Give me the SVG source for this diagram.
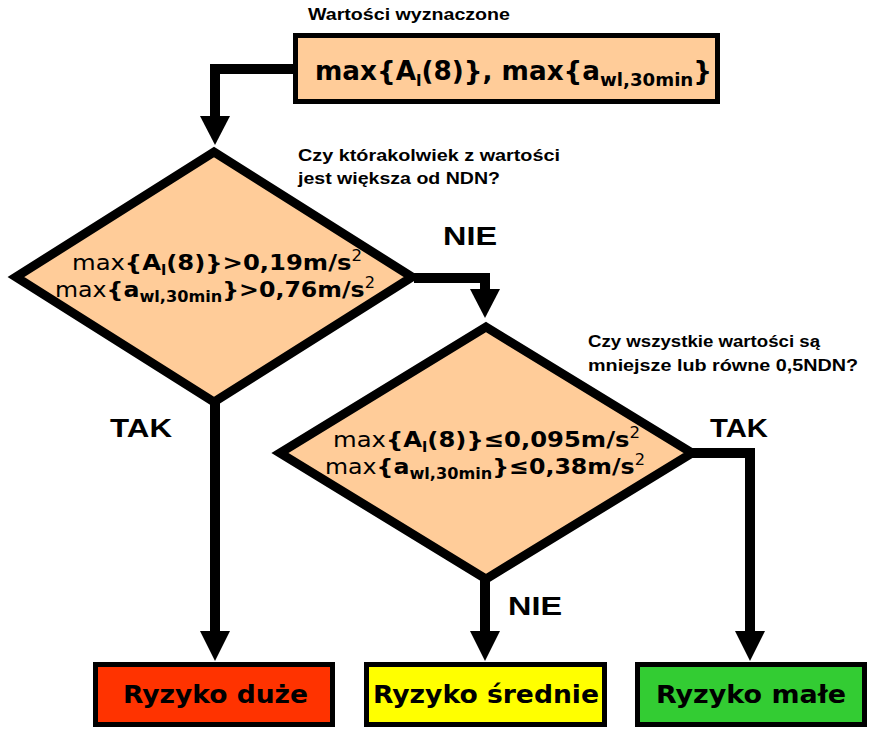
<svg xmlns="http://www.w3.org/2000/svg" width="872" height="730" viewBox="0 0 872 730">
<style>
.box{stroke:#000;stroke-width:5}
.dia{fill:#FFCC99;stroke:#000;stroke-width:9;stroke-linejoin:miter;stroke-miterlimit:10}
.con{fill:none;stroke:#000;stroke-width:10;stroke-linejoin:miter}
.head{fill:#000}
.q{font-family:"Liberation Sans",Arial,sans-serif;font-weight:bold;font-size:16.5px;fill:#000}
.lbl{font-family:"Liberation Sans",Arial,sans-serif;font-weight:bold;font-size:25px;fill:#000}
.f{font-family:"DejaVu Sans",Verdana,sans-serif;fill:#000}
.b{font-weight:bold}
.n{font-weight:normal}
.res{font-family:"DejaVu Sans",Verdana,sans-serif;font-weight:bold;font-size:25px;fill:#000}
</style>

<g id="connectors">
<path class="con" d="M293,69 H215 V118"/>
<polygon class="head" points="200,116 230,116 215,145"/>
<path class="con" d="M414,278 H485 V291"/>
<polygon class="head" points="470,289 500,289 485,318"/>
<path class="con" d="M215,402 V633"/>
<polygon class="head" points="200,631 230,631 215,661"/>
<path class="con" d="M485,578 V633"/>
<polygon class="head" points="470,631 500,631 485,661"/>
<path class="con" d="M692,453 H750 V633"/>
<polygon class="head" points="735,631 765,631 750,661"/>
</g>

<g id="title">
<text class="q" x="308" y="20" textLength="202" lengthAdjust="spacingAndGlyphs">Wartości wyznaczone</text>
</g>

<g id="start">
<rect class="box" x="295.5" y="35.5" width="422" height="66" fill="#FFCC99"/>
<text class="f b" x="315" y="80" font-size="26" textLength="397" lengthAdjust="spacingAndGlyphs">max{A<tspan font-size="16" dy="6">l</tspan><tspan dy="-6">(8)}, max{a</tspan><tspan font-size="18" dy="6">wl,30min</tspan><tspan dy="-6">}</tspan></text>
</g>

<g id="q1">
<text class="q" x="298" y="161" textLength="262" lengthAdjust="spacingAndGlyphs">Czy którakolwiek z wartości</text>
<text class="q" x="298" y="184" textLength="202" lengthAdjust="spacingAndGlyphs">jest większa od NDN?</text>
</g>

<g id="decision1">
<polygon class="dia" points="214,152 412,277 214,402 16,277"/>
<text class="f" x="72" y="270" font-size="22" textLength="290" lengthAdjust="spacingAndGlyphs">max<tspan class="b">{A</tspan><tspan class="b" font-size="14" dy="5">l</tspan><tspan class="b" dy="-5">(8)}&gt;0,19m/s</tspan><tspan font-size="15" dy="-9">2</tspan></text>
<text class="f" x="55" y="297" font-size="22" textLength="320" lengthAdjust="spacingAndGlyphs">max<tspan class="b">{a</tspan><tspan class="b" font-size="15" dy="5">wl,30min</tspan><tspan class="b" dy="-5">}&gt;0,76m/s</tspan><tspan font-size="15" dy="-9">2</tspan></text>
</g>

<g id="label-nie1">
<text class="lbl" x="443" y="245" textLength="54" lengthAdjust="spacingAndGlyphs">NIE</text>
</g>
<g id="label-tak1">
<text class="lbl" x="110" y="437" textLength="62" lengthAdjust="spacingAndGlyphs">TAK</text>
</g>

<g id="q2">
<text class="q" x="588" y="347" textLength="232" lengthAdjust="spacingAndGlyphs">Czy wszystkie wartości są</text>
<text class="q" x="588" y="371" textLength="270" lengthAdjust="spacingAndGlyphs">mniejsze lub równe 0,5NDN?</text>
</g>

<g id="decision2">
<polygon class="dia" points="486,327 692,453 486,579 280,453"/>
<text class="f" x="333" y="447" font-size="22" textLength="307" lengthAdjust="spacingAndGlyphs">max<tspan class="b">{A</tspan><tspan class="b" font-size="14" dy="5">l</tspan><tspan class="b" dy="-5">(8)}≤0,095m/s</tspan><tspan font-size="15" dy="-9">2</tspan></text>
<text class="f" x="325" y="474" font-size="22" textLength="320" lengthAdjust="spacingAndGlyphs">max<tspan class="b">{a</tspan><tspan class="b" font-size="15" dy="5">wl,30min</tspan><tspan class="b" dy="-5">}≤0,38m/s</tspan><tspan font-size="15" dy="-9">2</tspan></text>
</g>

<g id="label-tak2">
<text class="lbl" x="710" y="437" textLength="58" lengthAdjust="spacingAndGlyphs">TAK</text>
</g>
<g id="label-nie2">
<text class="lbl" x="508" y="615" textLength="54" lengthAdjust="spacingAndGlyphs">NIE</text>
</g>

<g id="risk-high">
<rect class="box" x="95.5" y="664.5" width="237" height="60" fill="#FF3300"/>
<text class="res" x="123" y="703" textLength="185" lengthAdjust="spacingAndGlyphs">Ryzyko duże</text>
</g>
<g id="risk-medium">
<rect class="box" x="366.5" y="664.5" width="238" height="60" fill="#FFFF00"/>
<text class="res" x="373" y="703" textLength="226" lengthAdjust="spacingAndGlyphs">Ryzyko średnie</text>
</g>
<g id="risk-low">
<rect class="box" x="637.5" y="664.5" width="227" height="60" fill="#33CC33"/>
<text class="res" x="656" y="703" textLength="190" lengthAdjust="spacingAndGlyphs">Ryzyko małe</text>
</g>
</svg>
